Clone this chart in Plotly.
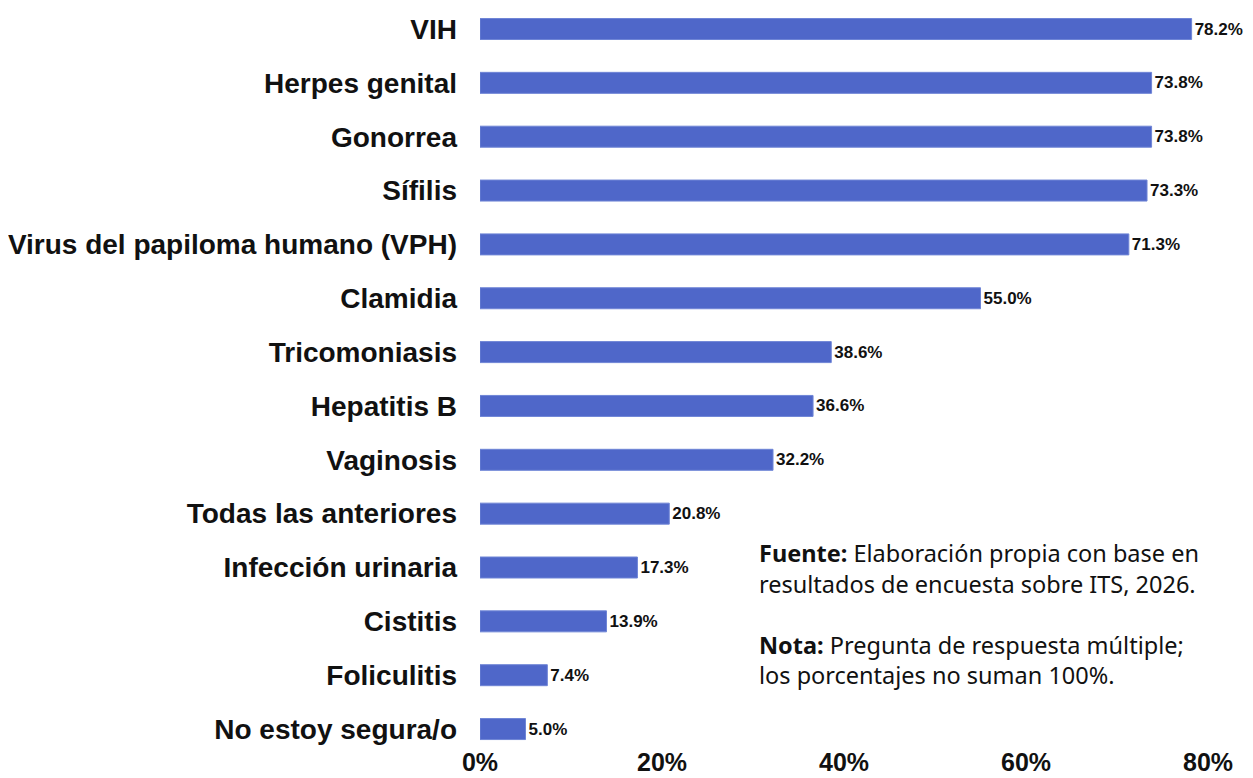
import plotly.graph_objects as go

categories = ["VIH", "Herpes genital", "Gonorrea", "Sífilis",
              "Virus del papiloma humano (VPH)", "Clamidia", "Tricomoniasis",
              "Hepatitis B", "Vaginosis", "Todas las anteriores",
              "Infección urinaria", "Cistitis", "Foliculitis", "No estoy segura/o"]
values = [78.2, 73.8, 73.8, 73.3, 71.3, 55.0, 38.6, 36.6, 32.2, 20.8, 17.3, 13.9, 7.4, 5.0]
tick_vals = [0, 20, 40, 60, 80]
tick_text = ["0%", "20%", "40%", "60%", "80%"]

W, H = 1245, 770
L, T, B = 472, 0, 33
PW = 728
R = W - L - PW
PH = H - T - B          # plot height in px
STEP = 53.85            # px per category
top_u = 13 + 21 / STEP
bot_u = top_u - PH / STEP

fig = go.Figure(go.Bar(
    x=values, y=categories, orientation="h",
    marker=dict(color="#4F67C9", line=dict(color="#6F85D6", width=1)),
    text=[f"{v:.1f}%" for v in values], textposition="outside",
    textfont=dict(family="Liberation Sans, Arial, sans-serif", size=17, color="#111111",
                  weight="bold"),
    cliponaxis=False, hoverinfo="skip",
))

fig.update_layout(
    width=W, height=H, margin=dict(l=L, r=R, t=T, b=B, autoexpand=False),
    paper_bgcolor="white", plot_bgcolor="white", bargap=0.61, showlegend=False,
    xaxis=dict(range=[0, 80], tickvals=tick_vals, ticktext=tick_text,
               showgrid=False, zeroline=False, showline=False, ticks="",
               tickfont=dict(family="Liberation Sans, Arial, sans-serif", size=25,
                             color="#111111", weight="bold"),
               ticklabelstandoff=0, automargin=False),
    yaxis=dict(categoryorder="array", categoryarray=categories[::-1],
               range=[bot_u, top_u],
               showgrid=False, zeroline=False, showline=False, ticks="",
               tickfont=dict(family="Liberation Sans, Arial, sans-serif", size=28,
                             color="#111111", weight="bold"),
               ticklabelstandoff=22, automargin=False),
    annotations=[dict(
        xref="paper", yref="paper", x=(749 - L) / PW, y=1 - (527 - T) / PH,
        xanchor="left", yanchor="top", align="left", showarrow=False,
        text=("<b>Fuente:</b> Elaboración propia con base en<br>"
              "resultados de encuesta sobre ITS, 2026.<br><br>"
              "<b>Nota:</b> Pregunta de respuesta múltiple;<br>"
              "los porcentajes no suman 100%."),
        font=dict(family="Noto Sans, 'Source Sans Pro', sans-serif", size=23.5, color="#111111"),
    )],
)

fig.write_html("out.html")
